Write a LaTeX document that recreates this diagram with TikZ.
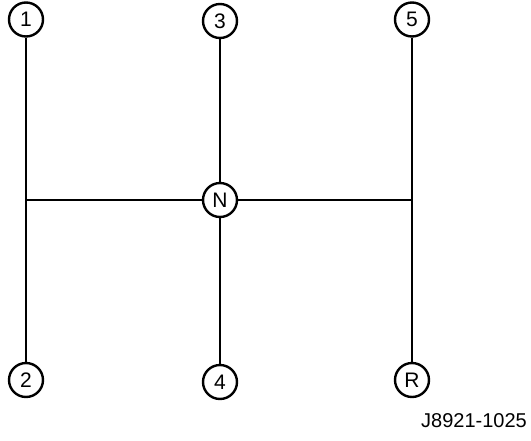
\documentclass[tikz,border=0pt]{standalone}
\usepackage{fontspec}
\setmainfont{Liberation Sans}
\usepackage{tikz}
\usepackage{xcolor}

\begin{document}
\begin{tikzpicture}[x=1pt, y=-1pt, line width=2.4pt,
    gear/.style={circle, draw, line width=2.4pt, minimum size=34pt, inner sep=0pt,
      font=\fontsize{21}{21}\selectfont}]
    \useasboundingbox (0,0) rectangle (531,440);
    \node[gear] (g1) at (26, 19.5) {1};
    \node[gear] (g3) at (220, 21) {3};
    \node[gear] (g5) at (412, 19.5) {5};
    \node[gear] (gN) at (220, 200) {N};
    \node[gear] (g2) at (26, 380) {2};
    \node[gear] (g4) at (220, 382) {4};
    \node[gear] (gR) at (412, 380) {R};
    \coordinate (lft) at (26, 200);
    \coordinate (rgt) at (412, 200);
    \draw (g1) -- (g2);
    \draw (g3) -- (gN) -- (g4);
    \draw (g5) -- (gR);
    \draw (lft) -- (gN) -- (rgt);
    \node[font=\fontsize{20}{20}\selectfont] (code) at (474, 421) {J8921-1025};
  \end{tikzpicture}
\end{document}
